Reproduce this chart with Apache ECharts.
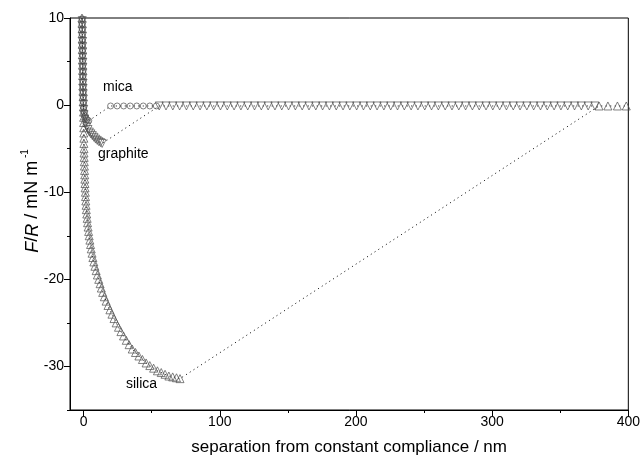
<!DOCTYPE html>
<html>
<head>
<meta charset="utf-8">
<script src="https://cdn.jsdelivr.net/npm/echarts@6/dist/echarts.min.js"></script>
<style>html,body{margin:0;padding:0;background:#fff;}#c{width:643px;height:461px;}</style>
</head>
<body>
<div id="c"></div>
<script>
// ---- data ----
var xMajorTicks = [0, 100, 200, 300, 400];
var xMinorTicks = [50, 150, 250, 350];
var yMajorTicks = [10, 0, -10, -20, -30];
var yMinorTicks = [5, -5, -15, -25, -35];

var micaX = [-1.1,-1.1,-1.0,-1.0,-0.9,-0.9,-0.8,-0.8,-0.7,-0.7,-0.6,-0.6,-0.5,-0.5,-0.4,-0.3,-0.2,0.0,0.4,1.0,1.8,2.8,3.8,
  19.8,24.6,29.4,34.2,39.0,43.8,48.6,53.4];
var micaY = [9.9,9.3,8.7,8.1,7.5,6.9,6.3,5.7,5.1,4.5,3.9,3.3,2.7,2.1,1.5,0.9,0.3,-0.3,-0.8,-1.2,-1.5,-1.7,-1.8,
  -0.1,-0.1,-0.1,-0.1,-0.1,-0.1,-0.1,-0.1];

var graphiteX = [-1.0,-1.0,-0.9,-0.9,-0.8,-0.8,-0.7,-0.7,-0.6,-0.6,-0.5,-0.5,-0.4,-0.4,-0.3,-0.2,-0.1,0.0,0.3,0.8,1.5,2.3,3.2,4.2,5.3,6.4,7.6,8.8,10.0,11.2,12.4,13.6,
  55.5,60.5,65.5,70.5,75.5,80.5,85.5,90.5,95.5,100.5,105.5,110.5,115.5,120.5,125.5,130.5,135.5,140.5,145.5,150.5,155.5,160.5,165.5,170.5,175.5,180.5,185.5,190.5,195.5,200.5,
  205.5,210.5,215.5,220.5,225.5,230.5,235.5,240.5,245.5,250.5,255.5,260.5,265.5,270.5,275.5,280.5,285.5,290.5,295.5,300.5,305.5,310.5,315.5,320.5,325.5,330.5,335.5,340.5,345.5,350.5,
  355.5,360.5,365.5,370.5,375.5];
var graphiteY = [9.7,9.1,8.5,7.9,7.3,6.7,6.1,5.5,4.9,4.3,3.7,3.1,2.5,1.9,1.3,0.7,0.1,-0.5,-1.1,-1.6,-2.1,-2.5,-2.8,-3.1,-3.3,-3.5,-3.7,-3.9,-4.05,-4.2,-4.3,-4.4,
  -0.1,-0.1,-0.1,-0.1,-0.1,-0.1,-0.1,-0.1,-0.1,-0.1,-0.1,-0.1,-0.1,-0.1,-0.1,-0.1,-0.1,-0.1,-0.1,-0.1,-0.1,-0.1,-0.1,-0.1,-0.1,-0.1,-0.1,-0.1,-0.1,-0.1,
  -0.1,-0.1,-0.1,-0.1,-0.1,-0.1,-0.1,-0.1,-0.1,-0.1,-0.1,-0.1,-0.1,-0.1,-0.1,-0.1,-0.1,-0.1,-0.1,-0.1,-0.1,-0.1,-0.1,-0.1,-0.1,-0.1,-0.1,-0.1,-0.1,-0.1,
  -0.1,-0.1,-0.1,-0.1,-0.1];

var silicaX = [-1.2,-1.2,-1.1,-1.1,-1.0,-1.0,-0.9,-0.9,-0.8,-0.8,-0.7,-0.7,-0.6,-0.6,-0.5,-0.4,-0.3,-0.2,-0.1,0.0,0.0,0.1,0.1,0.2,0.2,0.3,0.3,0.4,0.5,0.6,0.7,0.8,0.9,1.0,1.1,1.3,1.4,1.6,1.8,2.0,2.3,2.6,2.9,3.3,3.7,4.1,4.6,5.1,5.6,6.2,6.8,7.5,8.3,9.2,10.1,11.1,12.1,13.0,
  14.0,15.2,16.5,17.9,19.3,20.8,22.3,23.9,25.6,27.4,29.3,31.3,33.4,35.7,38.1,40.6,43.2,45.9,48.6,51.4,54.2,57.0,59.8,62.6,65.4,68.2,70.8,
  378.5,385.0,392.0,398.5];
var silicaY = [10.0,9.4,8.8,8.2,7.6,7.0,6.4,5.8,5.2,4.6,4.0,3.4,2.8,2.2,1.6,1.0,0.4,-0.2,-0.8,-1.4,-2.0,-2.6,-3.2,-3.8,-4.4,-5.0,-5.5,-6.0,-6.5,-7.0,-7.5,-8.0,-8.5,-9.0,-9.5,-10.0,-10.5,-11.0,-11.5,-12.0,-12.5,-13.0,-13.5,-14.0,-14.5,-15.0,-15.5,-16.0,-16.5,-17.0,-17.5,-18.0,-18.5,-19.0,-19.5,-20.0,-20.5,-21.0,
  -21.5,-22.0,-22.5,-23.0,-23.5,-24.0,-24.5,-25.0,-25.5,-26.0,-26.5,-27.0,-27.5,-28.0,-28.4,-28.8,-29.2,-29.6,-29.9,-30.2,-30.5,-30.7,-30.9,-31.1,-31.2,-31.3,-31.4,
  -0.1,-0.1,-0.1,-0.1];

function pairs(xs, ys) { return xs.map(function (x, i) { return [x, ys[i]]; }); }

var FONT = 'Liberation Sans, Arial, sans-serif';
var markerColor = '#4d4d4d';
var dotLine = { color: '#000', width: 1, type: [1, 3.5] };

var chart = echarts.init(document.getElementById('c'), null, { renderer: 'canvas' });
chart.setOption({
  animation: false,
  backgroundColor: '#fff',
  grid: { left: 70, right: 13, top: 18, bottom: 51, show: true, borderColor: '#000', borderWidth: 1, backgroundColor: 'transparent' },
  xAxis: [{
    type: 'value', min: -10, max: 400, interval: 10,
    axisLine: { show: true, onZero: false, lineStyle: { color: '#000', width: 1 } },
    axisTick: { show: true, length: 6, inside: false, customValues: xMajorTicks, lineStyle: { color: '#000' } },
    axisLabel: { customValues: xMajorTicks, color: '#000', fontSize: 14, fontFamily: FONT, margin: 5 },
    splitLine: { show: false },
    name: 'separation from constant compliance / nm', nameLocation: 'middle', nameGap: 29,
    nameTextStyle: { color: '#000', fontSize: 17, fontFamily: FONT }
  }, {
    type: 'value', min: -10, max: 400, interval: 10, position: 'bottom',
    axisLine: { show: false, onZero: false },
    axisTick: { show: true, length: 3, customValues: xMinorTicks, lineStyle: { color: '#000' } },
    axisLabel: { show: false }, splitLine: { show: false }
  }],
  yAxis: [{
    type: 'value', min: -35, max: 10, interval: 5,
    axisLine: { show: true, onZero: false, lineStyle: { color: '#000', width: 1 } },
    axisTick: { show: true, length: 6, customValues: yMajorTicks, lineStyle: { color: '#000' } },
    axisLabel: { customValues: yMajorTicks, color: '#000', fontSize: 14, fontFamily: FONT, margin: 6 },
    splitLine: { show: false }
  }, {
    type: 'value', min: -35, max: 10, interval: 5, position: 'left',
    axisLine: { show: false, onZero: false },
    axisTick: { show: true, length: 3, customValues: yMinorTicks, lineStyle: { color: '#000' } },
    axisLabel: { show: false }, splitLine: { show: false }
  }],
  graphic: [
    { type: 'text', left: 103, top: 80, style: { text: 'mica', fontSize: 14, fontFamily: FONT, fill: '#000' } },
    { type: 'text', left: 98, top: 147, style: { text: 'graphite', fontSize: 14, fontFamily: FONT, fill: '#000' } },
    { type: 'text', left: 126, top: 377, style: { text: 'silica', fontSize: 14, fontFamily: FONT, fill: '#000' } },
    { type: 'text', x: 31, y: 201, rotation: Math.PI / 2,
      style: {
        text: '{i|F}{n|/}{i|R}{n| / mN m}{s| -1}', align: 'center', verticalAlign: 'middle',
        fontSize: 18, fontFamily: FONT, fill: '#000',
        rich: {
          i: { fontStyle: 'italic', fontSize: 18, fontFamily: FONT, fill: '#000', verticalAlign: 'bottom', lineHeight: 21 },
          n: { fontSize: 18, fontFamily: FONT, fill: '#000', verticalAlign: 'bottom', lineHeight: 21 },
          s: { fontSize: 10, fontFamily: FONT, fill: '#000', verticalAlign: 'top', lineHeight: 21 }
        }
      }
    }
  ],
  series: [{
    name: 'mica', type: 'line', data: pairs(micaX, micaY),
    symbol: 'circle', symbolSize: 6, showSymbol: true,
    itemStyle: { color: 'rgba(0,0,0,0)', borderColor: markerColor, borderWidth: 0.7 },
    lineStyle: dotLine
  }, {
    name: 'graphite', type: 'line', data: pairs(graphiteX, graphiteY),
    symbol: 'triangle', symbolSize: 8, symbolRotate: 180, showSymbol: true,
    itemStyle: { color: 'rgba(0,0,0,0)', borderColor: markerColor, borderWidth: 0.7 },
    lineStyle: dotLine
  }, {
    name: 'silica', type: 'line', data: pairs(silicaX, silicaY),
    symbol: 'triangle', symbolSize: 8, showSymbol: true,
    itemStyle: { color: 'rgba(0,0,0,0)', borderColor: markerColor, borderWidth: 0.7 },
    lineStyle: dotLine
  }]
});
</script>
</body>
</html>
